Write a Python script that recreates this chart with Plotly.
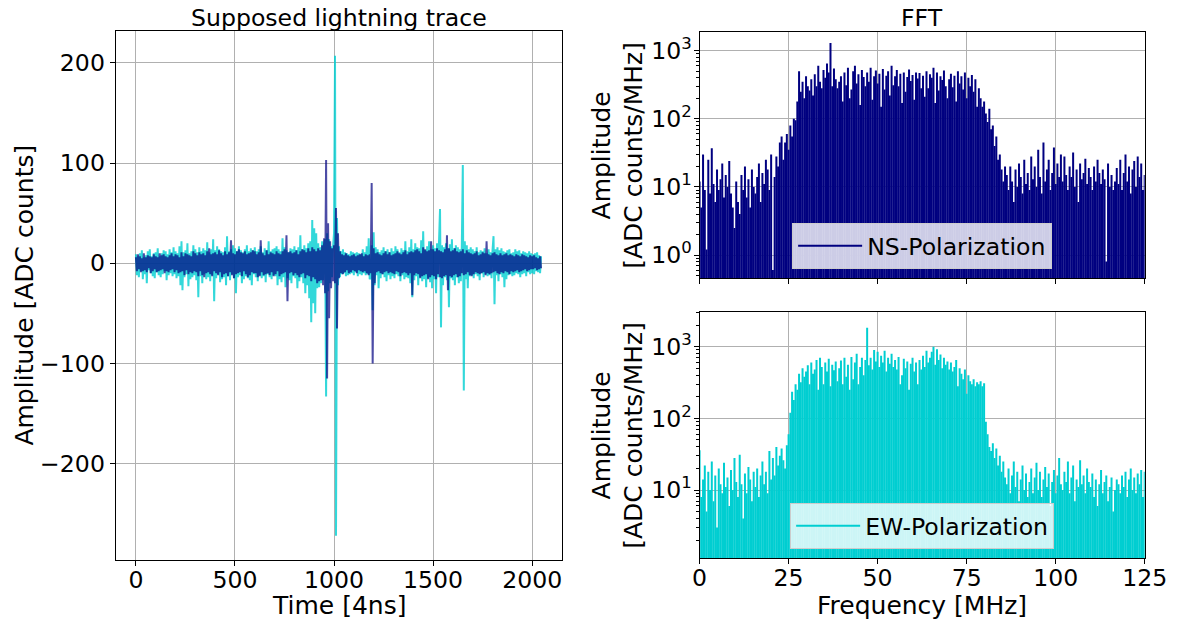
import plotly.graph_objects as go

# ---------------- data ----------------
# time-domain trace, sample index (every 5th sample of 2048)
time_idx = list(range(0, 2048, 5))

ew_trace = (
    [9,-12,7,-14,10,-8,13,-16,6,-11,8,-20,12,-7,14,-10,7,-13,10,-15]
  + [11,-9,15,-12,7,-14,10,-11,13,-8,12,-17,9,-12,14,-10,11,-13,16,-11]
  + [12,-15,10,-13,17,-22,22,-27,11,-14,13,-11,20,-23,10,-16,12,-14,18,-12]
  + [14,-17,11,-34,16,-13,12,-20,15,-11,13,-16,21,-14,11,-18,14,-12,24,-38]
  + [13,-15,17,-11,14,-19,12,-16,11,-14,16,-22,27,-13,12,-17,14,-11,18,-15]
  + [15,-30,12,-14,17,-12,13,-20,11,-16,14,-13,18,-15,12,-17,15,-22,13,-11]
  + [16,-14,12,-18,14,-12,17,-15,11,-13,15,-19,13,-11,22,-14,12,-16,14,-12]
  + [15,-13,17,-22,14,-16,12,-19,25,-14,16,-24,13,-15,11,-17,15,-20,14,-13]
  + [17,-15,13,-25,16,-18,28,-14,14,-20,18,-30,15,-22,20,-35,22,-59,43,-40]
  + [35,-50,30,-25,20,-24,16,-20,22,-17,18,24,-133,30,-28,24,-20,17,-14,16]
  + [30,207,-272,45,-22,17,-14,12,-11,14,-10,11,-13,10,-12,9,-11,12,-10,11]
  + [-12,10,-9,11,-13,10,-11,9,-12,14,-10,11,-12,17,-11,25,-16,-14,18,-47]
  + [31,-22,16,-12,14,-25,11,-15,13,-11,16,-14,12,-18,14,-12,11,-16,15,-13]
  + [12,-15,17,-11,14,-13,11,-18,15,-12,13,-16,22,-14,12,-15,16,-20,24,-34]
  + [14,-17,20,-13,16,-22,15,-14,23,-18,32,-16,13,-24,17,-15,22,-19,14,-25]
  + [18,-16,15,-30,20,-14,22,54,-64,18,-22,16,-14,20,-17,15,-44,19,-15,24]
  + [-17,15,-22,18,-14,16,-20,14,-18,17,98,-127,22,-16,18,-25,14,-13,16,-12]
  + [14,-15,12,-11,16,-13,11,-17,13,-10,12,-14,15,-11,10,-13,14,-12,11,-15]
  + [13,27,-41,14,-12,16,-18,13,-11,15,-14,12,-24,11,-16,13,-12,14,-11,10]
  + [-13,11,-12,14,-10,12,-11,13,-14,10,-11,12,-10,11,-13,10,-9,12,-11,10]
  + [-10,9,-11,10,-8,11,-9,8,-10,7]
)

ns_trace = (
    [6,-8,9,-6,7,-9,5,-8,10,-7,6,-9,8,-5,7,-10,6,-8,9,-6]
  + [7,-9,6,-8,10,-7,8,-6,9,-10,7,-8,6,-9,8,-7,10,-6,7,-9]
  + [9,-7,8,-10,6,-9,11,-8,7,-12,10,-7,9,-11,8,-9,7,-10,12,-8]
  + [10,-9,8,-13,11,-8,9,-12,10,-14,8,-10,12,-9,15,-11,9,-13,10,-8]
  + [11,-10,9,-12,13,-9,10,-14,8,-11,12,-10,9,-13,11,-9,23,-12,10,-15]
  + [9,-11,12,-10,14,-9,11,-13,10,-8,12,-11,9,-14,10,-12,11,-9,13,-10]
  + [12,-10,9,-14,11,-13,23,-9,10,-12,8,-11,13,-10,9,-12,11,-9,10,-13]
  + [9,-11,12,-8,10,-13,9,-11,12,-10,14,-9,28,-38,11,-10,12,-9,10,-12]
  + [11,-10,13,-12,9,-14,12,-11,14,-10,13,-15,11,-12,15,-13,12,-18,16,-14]
  + [14,-16,12,-20,15,-18,13,-17,18,-22,25,-30,103,-115,40,-55,22,-25,15,-18]
  + [18,-20,55,-65,30,-15,12,-10,9,-11,8,-9,10,-7,8,-10,7,-9,8,-7]
  + [9,-8,7,-10,8,-7,9,-8,10,-9,7,-8,9,-10,8,-12,9,-10,80,-100]
  + [15,-20,10,-9,11,-8,9,-10,8,-11,10,-9,12,-8,9,-10,11,-9,8,-10]
  + [9,-11,10,-8,12,-9,10,-13,9,-10,11,-9,13,-10,9,-12,11,-10,12,-32]
  + [11,-12,13,-10,14,-11,12,-15,10,-13,16,-12,14,-11,12,-16,13,-14,22,-12]
  + [14,-13,12,-16,15,-11,13,-14,12,-15,11,-13,14,-12,28,-27,15,-13,12,-14]
  + [13,-12,15,-11,12,-14,11,-13,12,-10,14,-12,10,-11,13,-9,11,-12,10,-13]
  + [9,-11,10,-9,12,-10,8,-11,9,-10,11,-9,10,-12,22,-10,9,-11,8,-10]
  + [10,-9,11,-8,9,-10,8,-11,10,-9,8,-10,9,-8,10,-9,8,-11,9,-8]
  + [8,-9,7,-8,9,-7,8,-9,7,-8,9,-7,8,-6,7,-8,6,-7,8,-6]
  + [7,-6,8,-5,6,-7,5,-6,7,-5]
)

# FFT amplitude spectra (256 bins from 0 to 125 MHz)
fft_n = 256
fft_freq = [i * 125 / (fft_n - 1) for i in range(fft_n)]

ns_fft = (
    [12,5,30,9,1.2,25,8,37,11,6,18,9,13,22,7,15]
  + [10,24,8,5,2.5,12,6,4,15,9,20,7,13,5,18,10]
  + [8,14,22,6,16,11,25,18,9,30,0.6,14,28,20,45,55]
  + [25,45,60,35,80,55,100,95,180,500,250,350,200,420,300,260]
  + [380,220,450,300,600,350,280,520,400,650,480,1300,300,550,380,280]
  + [350,420,180,480,310,560,200,270,500,600,330,450,160,520,410,300]
  + [480,350,560,190,420,510,330,460,150,540,270,430,500,220,600,310]
  + [420,520,300,460,170,480,250,410,530,360,440,190,480,390,470,280]
  + [430,210,500,280,450,400,560,170,480,260,420,370,510,300,200,380]
  + [460,290,430,180,500,330,420,270,480,200,400,300,440,250,380,150]
  + [280,200,150,180,120,90,140,70,80,40,55,25,30,18,12,20]
  + [15,9,20,12,6,18,10,22,14,8,25,11,16,9,28,13]
  + [20,10,35,14,8,45,12,18,25,9,16,38,11,22,14,30]
  + [12,28,15,9,20,14,32,10,18,6,22,13,16,26,11,19]
  + [14,9,20,12,25,16,11,18,13,0.8,22,10,15,9,12,19]
  + [11,25,9,16,30,12,20,8,18,24,10,28,14,22,9,15]
)

ew_fft = (
    [36,8,14,22,5,18,10,25,7,16,3,20,12,9,24,11]
  + [15,6,19,10,28,13,8,31,12,4,17,9,21,14,7,18]
  + [11,20,8,16,25,12,18,9,35,14,28,16,40,22,30,38]
  + [26,20,42,60,120,235,180,300,250,420,320,500,380,450,550,300]
  + [600,420,480,650,250,700,520,300,600,450,680,280,560,470,620,330]
  + [500,640,300,700,380,560,250,720,350,600,800,300,520,700,400,650]
  + [1840,550,700,480,900,620,850,520,750,600,880,450,700,580,800,520]
  + [650,480,720,300,400,680,500,620,250,580,700,450,600,300,650,480]
  + [750,520,880,600,700,850,1000,560,920,650,780,500,700,560,620,480]
  + [600,450,520,650,280,500,420,350,480,220,400,330,300,350,280,320]
  + [300,330,280,310,90,60,40,35,45,28,38,22,30,18,25,15]
  + [12,20,9,16,25,11,18,7,14,22,10,17,8,13,20,9]
  + [15,24,10,18,8,14,21,11,17,6,13,19,9,16,28,12]
  + [10,18,13,25,9,15,22,7,14,11,26,12,16,9,20,13]
  + [11,17,8,14,6,12,19,9,13,16,7,11,15,5,10,14]
  + [12,9,16,11,18,8,14,20,10,15,9,17,12,19,8,18]
)

assert len(ew_trace) == len(time_idx) == len(ns_trace)
assert len(ns_fft) == fft_n == len(ew_fft)

time_ticks = [0, 500, 1000, 1500, 2000]
amp_ticks = [-200, -100, 0, 100, 200]
amp_ticktext = ["\u2212200", "\u2212100", "0", "100", "200"]
freq_ticks = [0, 25, 50, 75, 100, 125]

# ---------------- layout helpers ----------------
W, H = 1194, 621
FONT = "DejaVu Sans"
TICK = 23.6
LAB = 25


def px_x(p):
    return p / W


def px_y(p):
    return 1 - p / H


def stems(freqs, vals, base=1e-3):
    xs, ys = [], []
    for f, v in zip(freqs, vals):
        xs += [f, f, None]
        ys += [base, v, None]
    return xs, ys


fig = go.Figure()

fig.add_trace(go.Scatter(x=time_idx, y=ew_trace, mode="lines",
                         line=dict(color="rgba(0,206,209,0.8)", width=2, simplify=False),
                         xaxis="x", yaxis="y", showlegend=False))
fig.add_trace(go.Scatter(x=time_idx, y=ns_trace, mode="lines",
                         line=dict(color="rgba(0,0,128,0.7)", width=2, simplify=False),
                         xaxis="x", yaxis="y", showlegend=False))

sx, sy = stems(fft_freq, ns_fft)
fig.add_trace(go.Scatter(x=sx, y=sy, mode="lines", name="NS-Polarization",
                         line=dict(color="#000080", width=2.0, simplify=False),
                         xaxis="x2", yaxis="y2", legend="legend"))
sx, sy = stems(fft_freq, ew_fft)
fig.add_trace(go.Scatter(x=sx, y=sy, mode="lines", name="EW-Polarization",
                         line=dict(color="#00CED1", width=2.0, simplify=False),
                         xaxis="x3", yaxis="y3", legend="legend2"))

common = dict(showgrid=True, gridcolor="#b0b0b0", gridwidth=1,
              showline=True, mirror=True, linecolor="black", linewidth=1,
              ticks="outside", ticklen=5, tickwidth=1, tickcolor="black",
              zeroline=False,
              tickfont=dict(family=FONT, size=TICK, color="black"))

minor_vals = [k * 10 ** d for d in range(-1, 4) for k in range(2, 10)]
minor = dict(ticks="outside", ticklen=3, tickwidth=1, tickcolor="black",
             tickmode="array", tickvals=minor_vals, showgrid=False)

fig.update_layout(
    width=W, height=H, margin=dict(l=0, r=0, t=0, b=0),
    paper_bgcolor="white", plot_bgcolor="white",
    font=dict(family=FONT, color="black"),
    xaxis=dict(domain=[px_x(110.5), px_x(568.5)], anchor="y",
               range=[-102.35, 2149.35], tickmode="array", tickvals=time_ticks,
               ticklabelstandoff=-6, **common),
    yaxis=dict(domain=[px_y(559.5), px_y(31)], anchor="x",
               range=[-295.6, 231.7], tickmode="array", tickvals=amp_ticks,
               ticktext=amp_ticktext, **common),
    xaxis2=dict(domain=[px_x(710), px_x(1167)], anchor="y2", range=[0, 125],
                tickmode="array", tickvals=freq_ticks, showticklabels=False,
                **common),
    yaxis2=dict(domain=[px_y(278.3), px_y(31.7)], anchor="x2", type="log",
                range=[-0.342, 3.279], tickmode="array",
                tickvals=[1, 10, 100, 1000],
                ticktext=["10<sup>0</sup>", "10<sup>1</sup>", "10<sup>2</sup>", "10<sup>3</sup>"],
                ticklabelstandoff=-3, minor=minor, **common),
    xaxis3=dict(domain=[px_x(710), px_x(1167)], anchor="y3", range=[0, 125],
                tickmode="array", tickvals=freq_ticks, ticklabelstandoff=-6,
                **common),
    yaxis3=dict(domain=[px_y(558), px_y(311.7)], anchor="x3", type="log",
                range=[0.052, 3.488], tickmode="array",
                tickvals=[10, 100, 1000],
                ticktext=["10<sup>1</sup>", "10<sup>2</sup>", "10<sup>3</sup>"],
                ticklabelstandoff=-3, minor=minor, **common),
    legend=dict(x=px_x(938.5), y=px_y(246), xanchor="center", yanchor="middle",
                bgcolor="rgba(255,255,255,0.8)", bordercolor="#cccccc",
                borderwidth=1, font=dict(family=FONT, size=TICK, color="black"),
                itemwidth=64),
    legend2=dict(x=px_x(938.5), y=px_y(526), xanchor="center", yanchor="middle",
                 bgcolor="rgba(255,255,255,0.8)", bordercolor="#cccccc",
                 borderwidth=1, font=dict(family=FONT, size=TICK, color="black"),
                 itemwidth=64),
)

ann = []


def add_text(text, x, y, size, angle=0):
    ann.append(dict(text=text, x=px_x(x), y=px_y(y), xref="paper", yref="paper",
                    xanchor="center", yanchor="middle", showarrow=False,
                    textangle=angle, font=dict(family=FONT, size=size, color="black")))


add_text("Supposed lightning trace", 339.5, 18, TICK)
add_text("FFT", 938.5, 18, TICK)
add_text("Time [4ns]", 339.5, 605, LAB)
add_text("Frequency [MHz]", 938.5, 605, LAB)
add_text("Amplitude [ADC counts]", 16, 295, LAB, -90)
add_text("Amplitude<br>[ADC counts/MHz]", 626, 155, LAB, -90)
add_text("Amplitude<br>[ADC counts/MHz]", 626, 435, LAB, -90)
fig.update_layout(annotations=ann)

fig.write_html("out.html")
